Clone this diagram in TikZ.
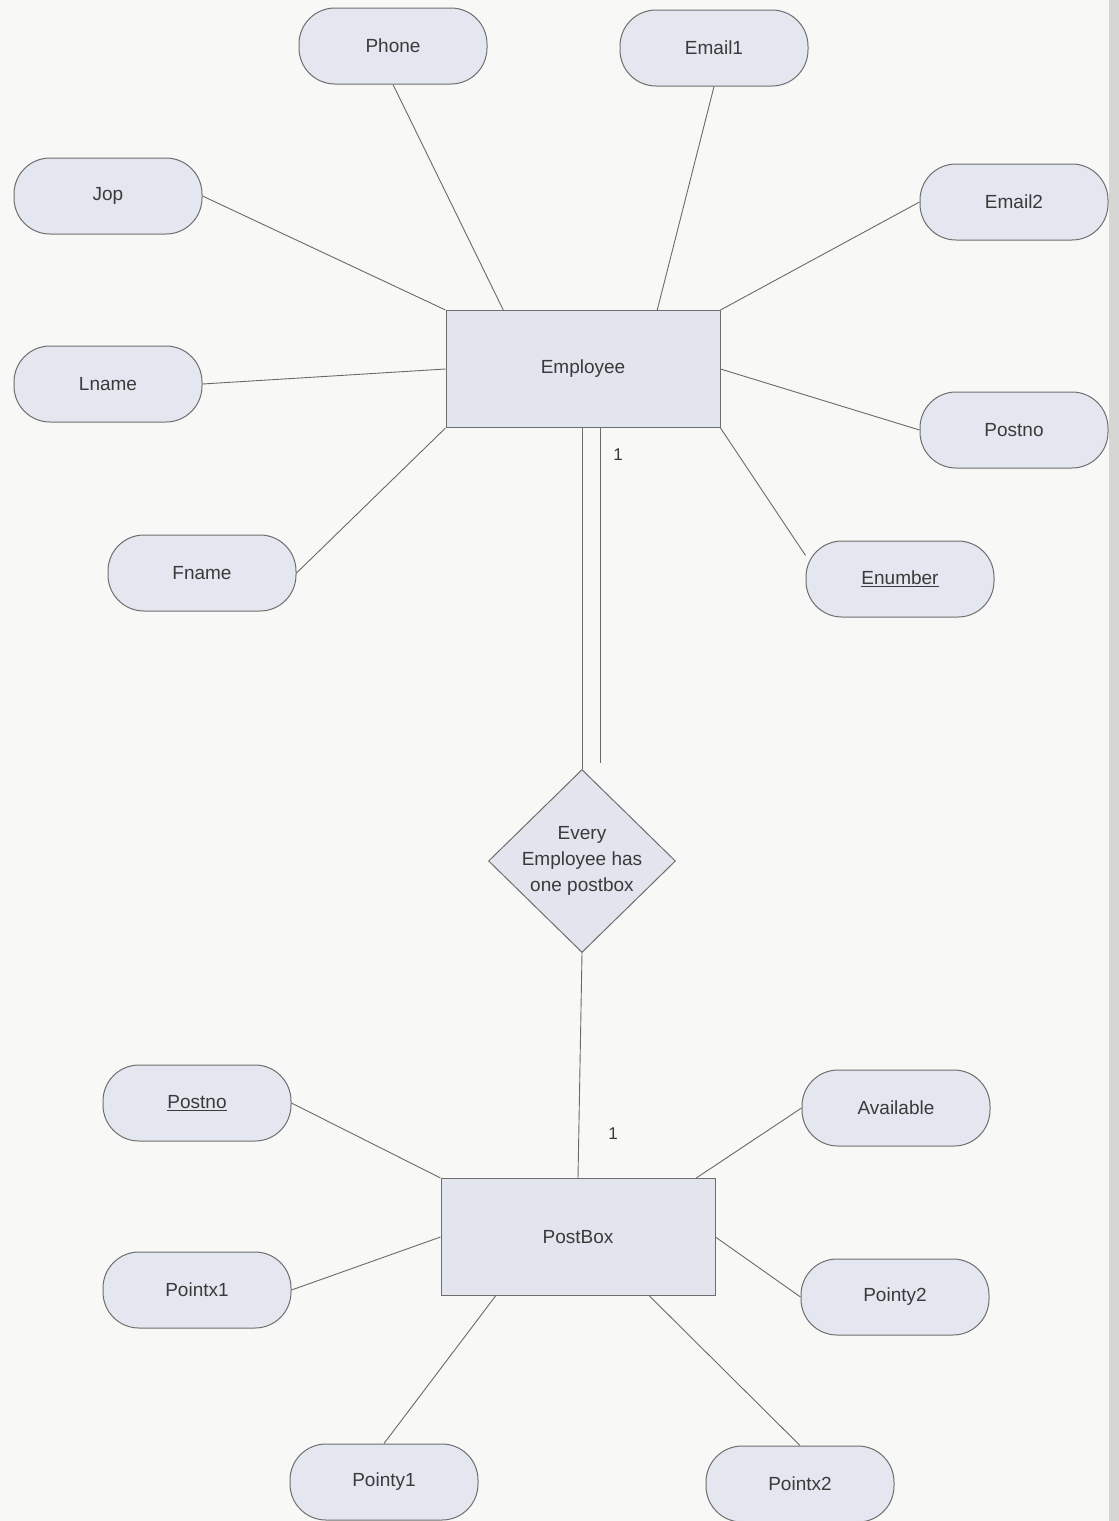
\documentclass[tikz,border=0pt]{standalone}
\usepackage{fontspec}
\setmainfont{Liberation Sans}
\usetikzlibrary{shapes.geometric,calc}
\definecolor{attrfill}{HTML}{E4E7F0}
\definecolor{entfill}{HTML}{E2E5EE}
\definecolor{linegray}{HTML}{6E6E6E}
\definecolor{conngray}{HTML}{6A6A6A}
\definecolor{textgray}{HTML}{3A3A3A}
\definecolor{pagebg}{HTML}{F8F8F6}
\definecolor{edgegray}{HTML}{D6D6D4}
\begin{document}
\begin{tikzpicture}[x=1pt,y=-1pt,
  attr/.style={draw=linegray, line width=1pt, fill=attrfill, rounded corners=36pt,
    minimum width=188pt, minimum height=76pt, inner sep=0pt,
    font=\fontsize{19}{22}\selectfont, text=textgray},
  ent/.style={draw=linegray, line width=1pt, fill=entfill, minimum width=274pt,
    minimum height=117pt, inner sep=0pt, font=\fontsize{19}{22}\selectfont, text=textgray},
  rel/.style={diamond, draw=linegray, line width=1pt, fill=entfill, aspect=1,
    minimum width=187pt, minimum height=183pt, inner sep=0pt},
  reltext/.style={font=\fontsize{19}{26}\selectfont, text=textgray, align=center},
  card/.style={font=\fontsize{17}{20}\selectfont, text=textgray},
  conn/.style={draw=conngray, line width=0.9pt}]
\useasboundingbox (0,0) rectangle (1119,1521);
\fill[pagebg] (0,0) rectangle (1119,1521);
\fill[edgegray] (1109,0) rectangle (1119,1521);

% Employee entity and attributes
\node[ent] (emp) at (583,369) {Employee};
\node[attr] (phone) at (393,46) {Phone};
\node[attr] (email1) at (714,48) {Email1};
\node[attr] (jop) at (108,196) {Jop};
\node[attr] (email2) at (1014,202) {Email2};
\node[attr] (lname) at (108,384) {Lname};
\node[attr] (postnoR) at (1014,430) {Postno};
\node[attr] (fname) at (202,573) {Fname};
\node[attr] (enumber) at (900,579) {\underline{Enumber}};

% Relationship
\node[rel] (rel) at (582,861) {};
\node[reltext] (reltxt) at (rel.center) {Every\\Employee has\\one postbox};

% PostBox entity and attributes
\node[ent] (pb) at (578,1237) {PostBox};
\node[attr] (postnoL) at (197,1103) {\underline{Postno}};
\node[attr] (avail) at (896,1108) {Available};
\node[attr] (pointx1) at (197,1290) {Pointx1};
\node[attr] (pointy2) at (895,1297) {Pointy2};
\node[attr] (pointy1) at (384,1482) {Pointy1};
\node[attr] (pointx2) at (800,1484) {Pointx2};

% Employee connectors
\draw[conn] (jop.east) -- (emp.north west);
\draw[conn] (phone.south) -- ($(emp.north west)!0.21!(emp.north east)$);
\draw[conn] (email1.south) -- ($(emp.north west)!0.77!(emp.north east)$);
\draw[conn] (email2.west) -- (emp.north east);
\draw[conn] (lname.east) -- (emp.west);
\draw[conn] (postnoR.west) -- (emp.east);
\draw[conn] (fname.east) -- (emp.south west);
\draw[conn] (enumber.166) -- (emp.south east);

% Employee -- relationship (double line, total participation)
\draw[conn] (emp.south -| rel.north) -- (rel.north);
\coordinate (dblend) at ($(rel.north)+(18,-6)$);
\draw[conn] ($(emp.south -| rel.north)+(18,0)$) -- (dblend);
\node[card] (c1) at (618,455) {1};

% relationship -- PostBox
\draw[conn] (rel.south) -- (pb.north);
\node[card] (c2) at (613,1134) {1};

% PostBox connectors
\draw[conn] (postnoL.east) -- (pb.north west);
\draw[conn] (avail.west) -- ($(pb.north west)!0.93!(pb.north east)$);
\draw[conn] (pointx1.east) -- (pb.west);
\draw[conn] (pointy2.west) -- (pb.east);
\draw[conn] (pointy1.north) -- ($(pb.south west)!0.2!(pb.south east)$);
\draw[conn] (pointx2.north) -- ($(pb.south west)!0.76!(pb.south east)$);
\end{tikzpicture}
\end{document}
